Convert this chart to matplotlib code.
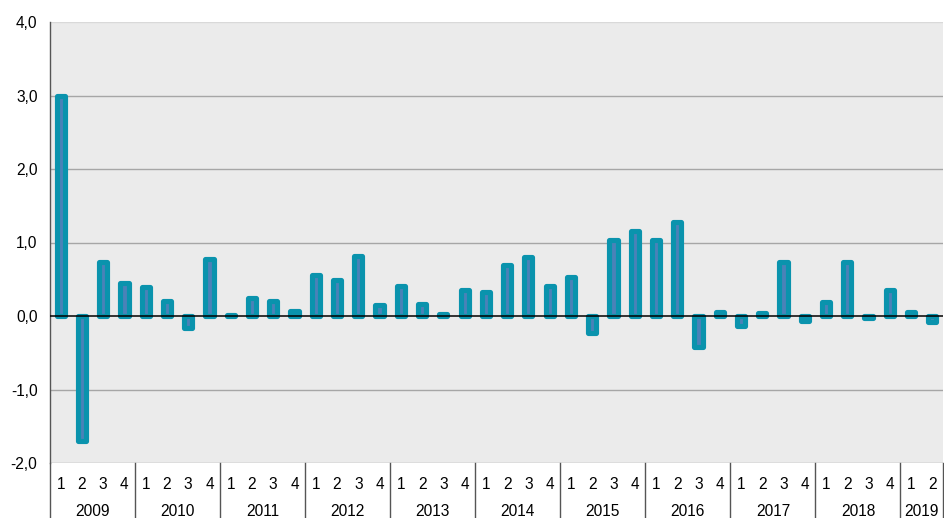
import numpy as np
import matplotlib
matplotlib.use('Agg')
import matplotlib.pyplot as plt
import matplotlib.transforms as mtransforms

plt.rcParams['font.family'] = ['Liberation Sans', 'DejaVu Sans']

years = ['2009', '2010', '2011', '2012', '2013', '2014', '2015', '2016', '2017', '2018', '2019']
quarters_per_year = [4, 4, 4, 4, 4, 4, 4, 4, 4, 4, 2]
values = [
    3.00, -1.70, 0.73, 0.45,   # 2009
    0.39, 0.20, -0.16, 0.78,   # 2010
    0.02, 0.24, 0.20, 0.07,    # 2011
    0.56, 0.49, 0.82, 0.15,    # 2012
    0.41, 0.16, 0.03, 0.36,    # 2013
    0.33, 0.69, 0.80, 0.41,    # 2014
    0.53, -0.23, 1.04, 1.16,   # 2015
    1.03, 1.28, -0.42, 0.05,   # 2016
    -0.13, 0.04, 0.73, -0.07,  # 2017
    0.19, 0.73, -0.03, 0.36,   # 2018
    0.05, -0.08,               # 2019
]
y_ticks = [-2, -1, 0, 1, 2, 3, 4]

W, H = 945, 518
fig = plt.figure(figsize=(W / 100, H / 100), dpi=100)
left, right, top, bottom = 50, 943, 22, 463
ax = fig.add_axes([left / W, (H - bottom) / H, (right - left) / W, (bottom - top) / H])
ax.set_facecolor('#ebebeb')

n = len(values)
x = np.arange(n)
ax.set_xlim(-0.5, n - 0.5)
ax.set_ylim(-2, 4)

# grid lines
for yv in y_ticks:
    if yv == 0:
        continue
    col = '#d9d9d9' if yv == 4 else '#a6a6a6'
    ax.axhline(yv, color=col, lw=1.0, zorder=1)

ax.bar(x, values, width=0.385, color='#4a82b8', edgecolor='#0a93ad',
       linewidth=3.7, joinstyle='round', zorder=2)
ax.axhline(0, color='black', lw=1.1, zorder=3)

for s in ['top', 'right', 'bottom']:
    ax.spines[s].set_visible(False)
ax.spines['left'].set_color('#555555')
ax.spines['left'].set_linewidth(1.0)

fs = 11.2
ax.set_yticks(y_ticks)
ax.set_yticklabels([('%.1f' % v).replace('.', ',') for v in y_ticks], fontsize=fs)
ax.tick_params(axis='y', length=0, pad=9)

# quarter labels
qlabels = []
for nq in quarters_per_year:
    qlabels += [str(q + 1) for q in range(nq)]
ax.set_xticks(x)
ax.set_xticklabels(qlabels, fontsize=fs)
ax.tick_params(axis='x', length=0, pad=10)

# year labels and separators
trans = mtransforms.blended_transform_factory(ax.transData, ax.transAxes)
below = -(H - bottom) / (bottom - top)
pos = 0
ax.plot([-0.5, -0.5], [0, below], transform=trans, color='#555555', lw=1.0, clip_on=False)
for yr, nq in zip(years, quarters_per_year):
    center = pos + (nq - 1) / 2
    ax.text(center, -48 / (bottom - top), yr, transform=trans, ha='center', va='center',
            fontsize=fs)
    pos += nq
    ax.plot([pos - 0.5, pos - 0.5], [0, below], transform=trans, color='#555555',
            lw=1.0, clip_on=False)

fig.savefig('out.png', dpi=100)
